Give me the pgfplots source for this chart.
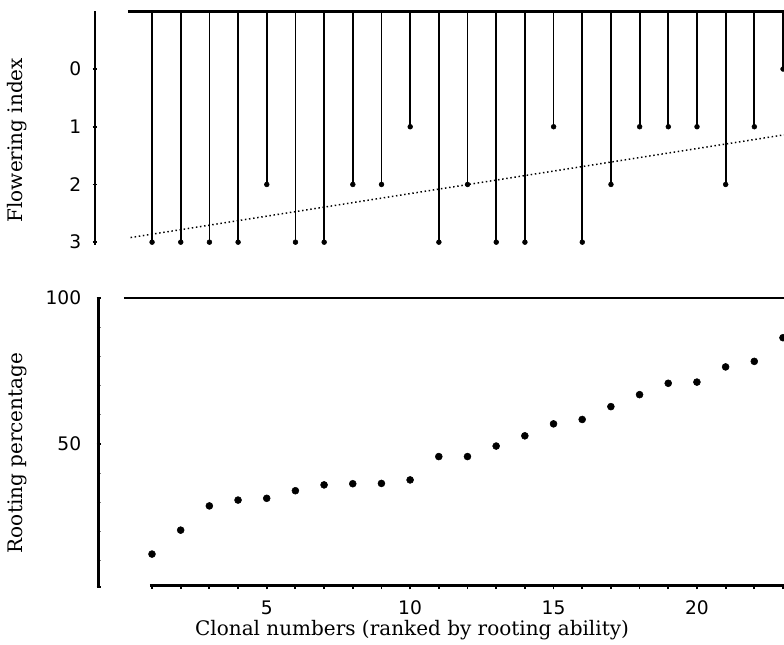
\documentclass[border=0pt]{standalone}
\usepackage{fontspec}
\setmainfont{DejaVu Serif}
\newfontfamily\tickfont{DejaVu Sans}
\usepackage{pgfplots}
\pgfplotsset{compat=1.18}
\usepackage{pgfplotstable}

% flowering index per clone (0 = top of scale, 3 = bottom)
\pgfplotstableread{
clone flower
1 3
2 3
3 3
4 3
5 2
6 3
7 3
8 2
9 2
10 1
11 3
12 2
13 3
14 3
15 1
16 3
17 2
18 1
19 1
20 1
21 2
22 1
23 0
}\flowering

% rooting percentage per clone
\pgfplotstableread{
clone rooting
1 12.3
2 20.5
3 28.8
4 30.8
5 31.4
6 34.0
7 36.0
8 36.4
9 36.5
10 37.7
11 45.7
12 45.7
13 49.3
14 52.8
15 56.9
16 58.4
17 62.8
18 66.9
19 70.8
20 71.2
21 76.4
22 78.3
23 86.4
}\rooting

\begin{document}
\begin{tikzpicture}
\useasboundingbox (0,0) rectangle (588pt,483pt);
\pgfplotsset{
  panel/.style={
    clip=false,
    tick align=inside,
    major tick length=3.5pt,
    minor tick length=3pt,
    tick style={black, line width=1.4pt},
    /pgf/number format/assume math mode=true,
    ticklabel style={font=\tickfont\fontsize{14}{14}\selectfont},
    label style={font=\fontsize{15}{15}\selectfont},
  },
}
% upper panel
\begin{axis}[panel,
  at={(71.25pt,474.5pt)}, anchor=north west,
  x=21.51pt, y=43.28pt, y dir=reverse,
  xmin=-0.99, xmax=23.04, ymin=-1, ymax=3.05,
  axis x line=none, axis y line=left,
  axis line style={-},
  every outer y axis line/.append style={line width=2.2pt, -},
  y axis line style={line width=2.2pt, -},
  ytick={0,1,2,3},
  yticklabel style={xshift=-5pt},
  ylabel={Flowering index},
  ylabel style={at={(axis description cs:-0.113,0.449)}, anchor=center},
]
\addplot[black, line width=1.9pt] coordinates {(0.16,-1) (23.04,-1)};
\addplot[only marks, mark=*, mark size=1.8pt, black,
  error bars/.cd, y dir=minus, y explicit, error mark=none,
  error bar style={line width=1.3pt}]
  table[x=clone, y=flower, y error minus expr=\thisrow{flower}+1] {\flowering};
\addplot[black, line width=1.1pt, dash pattern=on 1.1pt off 2pt]
  coordinates {(0.25,2.92) (23.04,1.14)};
\end{axis}
% lower panel
\begin{axis}[panel,
  at={(74.2pt,259.5pt)}, anchor=north west,
  x=21.51pt, y=2.19pt,
  xmin=-0.85, xmax=23.04, ymin=1, ymax=100,
  axis x line=bottom, axis y line=left,
  axis line style={-},
  every outer y axis line/.append style={line width=2.2pt, -},
  y axis line style={line width=2.2pt, -},
  x axis line style={draw=none},
  xtick={5,10,15,20}, minor xtick={1,...,23},
  ytick={1,50,100}, yticklabels={,50,100},
  minor ytick={10,20,...,90},
  minor y tick style={gray, line width=0.5pt},
  yticklabel style={xshift=-8pt},
  xticklabel style={yshift=-5pt},
  ylabel={Rooting percentage},
  ylabel style={at={(axis description cs:-0.1195,0.464)}, anchor=center},
  xlabel={Clonal numbers (ranked by rooting ability)},
  xlabel style={at={(axis description cs:0.457,0)}, anchor=center, yshift=-32pt},
]
\addplot[black, line width=1.4pt] coordinates {(0.02,100) (23.04,100)};
\addplot[black, line width=2.5pt] coordinates {(0.93,1.5) (23.04,1.5)};
\addplot[only marks, mark=*, mark size=2.6pt, black]
  table[x=clone, y=rooting] {\rooting};
\end{axis}
\end{tikzpicture}
\end{document}
